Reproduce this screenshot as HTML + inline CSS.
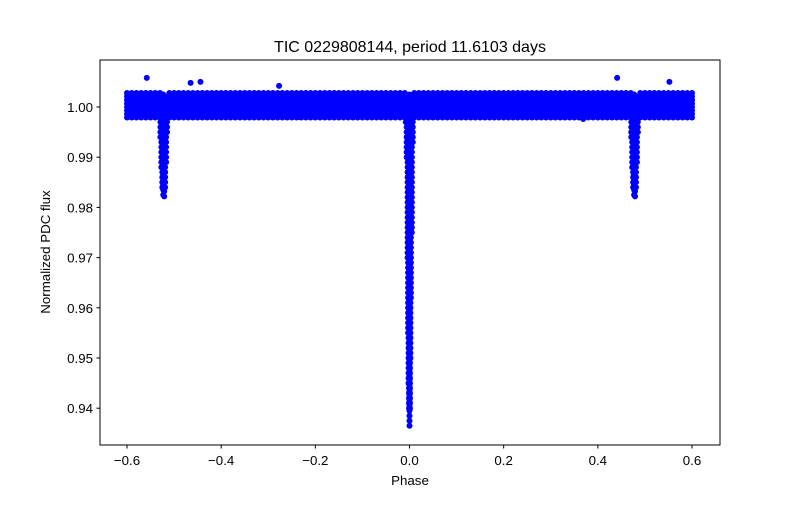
<!DOCTYPE html>
<html><head><meta charset="utf-8"><style>
body{margin:0;background:#fff;}
svg text{font-family:"Liberation Sans","DejaVu Sans",sans-serif;fill:#000;}
</style></head><body>
<svg id="chart" width="800" height="500" xmlns="http://www.w3.org/2000/svg">
<rect width="800" height="500" fill="#fff"/>
<text x="410" y="52" font-size="16" text-anchor="middle">TIC 0229808144, period 11.6103 days</text>
<g id="marks"></g>
<rect x="100" y="60" width="620" height="385" fill="none" stroke="#000" stroke-width="1"/>
<g id="axes"></g>
<text x="410" y="485" font-size="13.3" text-anchor="middle">Phase</text>
<text transform="translate(50,252) rotate(-90)" font-size="13.3" text-anchor="middle">Normalized PDC flux</text>
</svg>
<script>
const bandPhase=[-0.60,-0.59,-0.58,-0.57,-0.56,-0.55,-0.54,-0.53,-0.51,-0.50,-0.49,-0.48,-0.47,-0.46,-0.45,-0.44,-0.43,-0.42,-0.41,-0.40,-0.39,-0.38,-0.37,-0.36,-0.35,-0.34,-0.33,-0.32,-0.31,-0.30,-0.29,-0.28,-0.27,-0.26,-0.25,-0.24,-0.23,-0.22,-0.21,-0.20,-0.19,-0.18,-0.17,-0.16,-0.15,-0.14,-0.13,-0.12,-0.11,-0.10,-0.09,-0.08,-0.07,-0.06,-0.05,-0.04,-0.03,-0.02,-0.01,0.01,0.02,0.03,0.04,0.05,0.06,0.07,0.08,0.09,0.10,0.11,0.12,0.13,0.14,0.15,0.16,0.17,0.18,0.19,0.20,0.21,0.22,0.23,0.24,0.25,0.26,0.27,0.28,0.29,0.30,0.31,0.32,0.33,0.34,0.35,0.36,0.37,0.38,0.39,0.40,0.41,0.42,0.43,0.44,0.45,0.46,0.47,0.49,0.50,0.51,0.52,0.53,0.54,0.55,0.56,0.57,0.58,0.59,0.60];
const bandLow=0.9979;
const bandHigh=1.0031;
const eclPhase=[-0.531,-0.529,-0.527,-0.525,-0.523,-0.521,-0.519,-0.517,-0.515,-0.513,-0.008,-0.006,-0.004,-0.003,-0.002,-0.001,0.000,0.001,0.002,0.003,0.005,0.007,0.469,0.471,0.473,0.475,0.477,0.479,0.481,0.483,0.485,0.487];
const eclLow=[0.998,0.994,0.988,0.984,0.9825,0.9822,0.984,0.989,0.995,0.998,0.997,0.990,0.970,0.955,0.945,0.940,0.9365,0.940,0.950,0.962,0.975,0.993,0.998,0.994,0.988,0.984,0.9825,0.9822,0.984,0.989,0.995,0.998];
const outPhase=[-0.558,-0.465,-0.444,-0.277,0.441,0.552,0.369,-0.234];
const outFlux=[1.0058,1.0048,1.005,1.0042,1.0058,1.005,0.9976,0.998];
const xTicks=[-0.6,-0.4,-0.2,0.0,0.2,0.4,0.6];
const xTickLabels=["−0.6","−0.4","−0.2","0.0","0.2","0.4","0.6"];
const yTicks=[0.94,0.95,0.96,0.97,0.98,0.99,1.00];
const yTickLabels=["0.94","0.95","0.96","0.97","0.98","0.99","1.00"];

const NS="http://www.w3.org/2000/svg";
const xS=p=>409.5+p*(565/1.2);
const yS=f=>107+(1.0-f)*5020;
const marks=document.getElementById('marks');
function dot(p,f){
  const c=document.createElementNS(NS,'circle');
  c.setAttribute('cx',xS(p));c.setAttribute('cy',yS(f));c.setAttribute('r',3);c.setAttribute('fill','#0000ff');
  
  
  marks.appendChild(c);
}
bandPhase.forEach(p=>{for(let f=bandLow;f<=bandHigh+1e-9;f+=0.0007)dot(p,f);});
eclPhase.forEach((p,i)=>{for(let f=eclLow[i];f<=1.0025;f+=0.0010)dot(p,f);});
outPhase.forEach((p,i)=>dot(p,outFlux[i]));
const axes=document.getElementById('axes');
xTicks.forEach((t,i)=>{
  const x=xS(t);
  const l=document.createElementNS(NS,'line');
  l.setAttribute('x1',x);l.setAttribute('x2',x);l.setAttribute('y1',445);l.setAttribute('y2',448.5);l.setAttribute('stroke','#000');
  
  
  axes.appendChild(l);
  const tx=document.createElementNS(NS,'text');
  tx.setAttribute('x',x);tx.setAttribute('y',465);tx.setAttribute('font-size','13.3');tx.setAttribute('text-anchor','middle');
  tx.textContent=xTickLabels[i];
  
  
  axes.appendChild(tx);
});
yTicks.forEach((t,i)=>{
  const y=yS(t);
  const l=document.createElementNS(NS,'line');
  l.setAttribute('x1',96.5);l.setAttribute('x2',100);l.setAttribute('y1',y);l.setAttribute('y2',y);l.setAttribute('stroke','#000');
  
  
  axes.appendChild(l);
  const tx=document.createElementNS(NS,'text');
  tx.setAttribute('x',93);tx.setAttribute('y',y+5);tx.setAttribute('font-size','13.3');tx.setAttribute('text-anchor','end');
  tx.textContent=yTickLabels[i];
  
  
  axes.appendChild(tx);
});
</script>
</body></html>
